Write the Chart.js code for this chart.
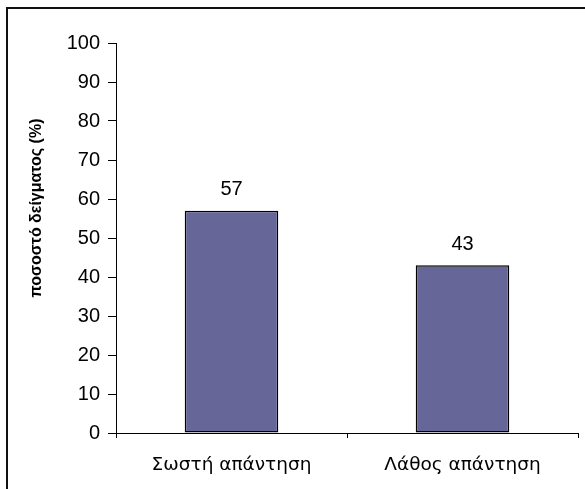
<!DOCTYPE html>
<html lang="el">
<head>
<meta charset="UTF-8" />
<title>Σωστή / Λάθος απάντηση</title>
<script src="https://cdn.jsdelivr.net/npm/chart.js"></script>
<style>
  html, body { margin: 0; padding: 0; background: #fff; }
  #wrap { position: relative; width: 585px; height: 489px; overflow: hidden; }
  #frame {
    position: absolute; left: 6px; top: 7px; width: 600px; height: 500px;
    border-left: 2px solid #111; border-top: 2px solid #111;
  }
  canvas { position: absolute; left: 0; top: 0; }
</style>
</head>
<body>
<div id="wrap">
  <div id="frame"></div>
  <canvas id="chart" width="585" height="489"></canvas>
</div>
<script>
const categories = ["Σωστή απάντηση", "Λάθος απάντηση"];
const percentages = [57, 43];
const yTicks = [0, 10, 20, 30, 40, 50, 60, 70, 80, 90, 100];
const yTitle = "ποσοστό δείγματος (%)";

// τιμές πάνω από κάθε μπάρα
const valueLabels = {
  id: "valueLabels",
  afterDatasetsDraw(chart) {
    const ctx = chart.ctx;
    const meta = chart.getDatasetMeta(0);
    ctx.save();
    ctx.fillStyle = "#000";
    ctx.font = "20px 'Liberation Sans', Arial, sans-serif";
    ctx.textAlign = "center";
    ctx.textBaseline = "middle";
    meta.data.forEach((bar, i) => {
      ctx.fillText(String(percentages[i]), bar.x, bar.y - 21);
    });
    ctx.restore();
  }
};

// κάθετος τίτλος άξονα y, λίγο πάνω από το κέντρο
const sideTitle = {
  id: "sideTitle",
  afterDraw(chart) {
    const ctx = chart.ctx;
    ctx.save();
    ctx.translate(37, 208);
    ctx.rotate(-Math.PI / 2);
    ctx.fillStyle = "#000";
    ctx.font = "bold 16px 'Liberation Sans', Arial, sans-serif";
    ctx.textAlign = "center";
    ctx.textBaseline = "middle";
    ctx.fillText(yTitle, 0, 0);
    ctx.restore();
  }
};

new Chart(document.getElementById("chart"), {
  type: "bar",
  data: {
    labels: categories,
    datasets: [{
      data: percentages,
      backgroundColor: "#666699",
      borderColor: "#000",
      borderWidth: 1.5,
      borderSkipped: false,
      barPercentage: 0.405,
      categoryPercentage: 1.0
    }]
  },
  options: {
    responsive: false,
    animation: false,
    layout: { padding: { left: 0, top: 43, right: 7, bottom: 0 } },
    plugins: {
      legend: { display: false },
      tooltip: { enabled: false }
    },
    scales: {
      x: {
        grid: {
          offset: true,
          drawOnChartArea: false,
          color: "#000",
          tickLength: 5
        },
        border: { color: "#000", width: 1 },
        ticks: {
          color: "#000",
          padding: 16,
          font: { family: "'DejaVu Sans', sans-serif", size: 18.5 }
        },
        afterFit(scale) { scale.height = 56; }
      },
      y: {
        min: 0,
        max: 100,
        afterBuildTicks(scale) { scale.ticks = yTicks.map(v => ({ value: v })); },
        grid: {
          drawOnChartArea: false,
          color: "#000",
          tickLength: 8
        },
        border: { color: "#000", width: 1 },
        ticks: {
          color: "#000",
          padding: 8,
          font: { family: "'Liberation Sans', Arial, sans-serif", size: 20 }
        },
        afterFit(scale) { scale.width = 116; }
      }
    }
  },
  plugins: [valueLabels, sideTitle]
});
</script>
</body>
</html>
